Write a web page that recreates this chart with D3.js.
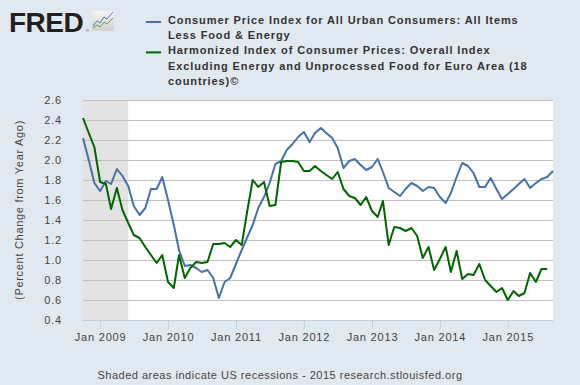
<!DOCTYPE html>
<html>
<head>
<meta charset="utf-8">
<script src="https://cdn.jsdelivr.net/npm/d3@7"></script>
<style>
  body { margin: 0; background: #e1e9f0; }
  svg { display: block; font-family: "Liberation Sans", Arial, sans-serif; }
</style>
</head>
<body>
<svg id="chart" width="580" height="385"></svg>
<script>
// monthly, Oct 2008 .. Sep 2015 (percent change from year ago)
const startMonth = "2008-10";
const usCore = [
  2.22, 2.00, 1.77,
  1.69, 1.79, 1.76, 1.91, 1.84, 1.74, 1.54, 1.45, 1.52, 1.71, 1.71, 1.83,
  1.60, 1.35, 1.10, 0.94, 0.95, 0.92, 0.88, 0.90, 0.82, 0.62, 0.78, 0.82,
  0.96, 1.10, 1.22, 1.35, 1.52, 1.63, 1.77, 1.96, 1.99, 2.10, 2.16, 2.23,
  2.28, 2.18, 2.27, 2.32, 2.27, 2.22, 2.12, 1.92, 1.99, 2.01, 1.95, 1.90,
  1.93, 2.01, 1.88, 1.72, 1.68, 1.64, 1.71, 1.77, 1.74, 1.69, 1.73, 1.72,
  1.63, 1.57, 1.67, 1.83, 1.97, 1.94, 1.87, 1.73, 1.73, 1.82, 1.71, 1.61,
  1.66, 1.71, 1.76, 1.81, 1.72, 1.77, 1.81, 1.83, 1.89
];
const euroCore = [
  2.42, 2.27, 2.13,
  1.78, 1.76, 1.51, 1.72, 1.50, 1.37, 1.25, 1.22, 1.13, 1.05, 0.97, 1.05,
  0.78, 0.72, 1.05, 0.82, 0.92, 0.98, 0.97, 0.98, 1.16, 1.16, 1.17, 1.13,
  1.20, 1.15, 1.47, 1.80, 1.73, 1.78, 1.54, 1.55, 1.98, 1.99, 1.99, 1.98,
  1.89, 1.89, 1.94, 1.89, 1.85, 1.81, 1.88, 1.71, 1.64, 1.62, 1.55, 1.63,
  1.49, 1.43, 1.59, 1.15, 1.33, 1.32, 1.29, 1.32, 1.24, 1.02, 1.13, 0.90,
  1.01, 1.13, 0.88, 1.09, 0.81, 0.86, 0.85, 0.96, 0.80, 0.74, 0.68, 0.72,
  0.60, 0.69, 0.64, 0.67, 0.87, 0.78, 0.91, 0.91
];
const legendLines = [
  ["Consumer Price Index for All Urban Consumers: All Items", "Less Food & Energy"],
  ["Harmonized Index of Consumer Prices: Overall Index",
   "Excluding Energy and Unprocessed Food for Euro Area (18", "countries)©"]
];
const recession = ["2008-10", "2009-06"];
const yTicks = [0.4, 0.6, 0.8, 1.0, 1.2, 1.4, 1.6, 1.8, 2.0, 2.2, 2.4, 2.6];
const xTickYears = [2009, 2010, 2011, 2012, 2013, 2014, 2015];

const colors = ["#4572a7", "#006600"];
const parseMonth = d3.timeParse("%Y-%m");
const t0 = parseMonth(startMonth);
const toSeries = vals => vals.map((v, i) => ({ date: d3.timeMonth.offset(t0, i), value: v }));
const series = [toSeries(usCore), toSeries(euroCore)];

const svg = d3.select("#chart");
const margin = { top: 100, right: 27, bottom: 65, left: 83 };
const W = 580, H = 385;

const x = d3.scaleTime()
  .domain([t0, parseMonth("2015-09")])
  .range([margin.left, W - margin.right]);
const y = d3.scaleLinear()
  .domain([0.4, 2.6])
  .range([H - margin.bottom, margin.top]);

// plot background
svg.append("rect")
  .attr("x", margin.left).attr("y", margin.top)
  .attr("width", W - margin.left - margin.right)
  .attr("height", H - margin.top - margin.bottom)
  .attr("fill", "#fff");

// recession shading
svg.append("rect")
  .attr("x", x(parseMonth(recession[0])))
  .attr("y", margin.top)
  .attr("width", x(parseMonth(recession[1])) - x(parseMonth(recession[0])))
  .attr("height", H - margin.top - margin.bottom)
  .attr("fill", "#e3e3e3");

// grid + y labels
const yAxis = svg.append("g")
  .attr("transform", `translate(${margin.left},0)`)
  .call(d3.axisLeft(y).tickValues(yTicks).tickFormat(d3.format(".1f"))
    .tickSize(-(W - margin.left - margin.right)).tickPadding(21));
yAxis.select(".domain").remove();
yAxis.selectAll(".tick line").attr("stroke", "#c0c0c0");
yAxis.selectAll(".tick text")
  .attr("fill", "#444").style("font-size", "11px").style("letter-spacing", "0.8px");

// x axis
const xAxis = svg.append("g")
  .attr("transform", `translate(0,${H - margin.bottom})`)
  .call(d3.axisBottom(x)
    .tickValues(xTickYears.map(yr => new Date(yr, 0, 1)))
    .tickFormat(d3.timeFormat("Jan %Y"))
    .tickSize(9).tickPadding(4).tickSizeOuter(0));
xAxis.select(".domain").attr("stroke", "#c0d0e0");
xAxis.selectAll(".tick line").attr("stroke", "#c0d0e0");
xAxis.selectAll(".tick text")
  .attr("fill", "#444").style("font-size", "11px").style("letter-spacing", "0.8px");

// lines
const line = d3.line().x(d => x(d.date)).y(d => y(d.value));
series.forEach((s, i) => {
  svg.append("path")
    .datum(s)
    .attr("fill", "none")
    .attr("stroke", colors[i])
    .attr("stroke-width", 2)
    .attr("stroke-linejoin", "round")
    .attr("d", line);
});

// y title
svg.append("text")
  .attr("transform", `translate(23,${(margin.top + H - margin.bottom) / 2}) rotate(-90)`)
  .attr("text-anchor", "middle")
  .attr("fill", "#444")
  .style("font-size", "11px").style("letter-spacing", "0.7px")
  .text("(Percent Change from Year Ago)");

// legend
let ly = 24;
legendLines.forEach((lines, i) => {
  svg.append("line")
    .attr("x1", 146).attr("x2", 161)
    .attr("y1", ly - 2).attr("y2", ly - 2)
    .attr("stroke", colors[i]).attr("stroke-width", 2);
  lines.forEach(txt => {
    svg.append("text")
      .attr("x", 168).attr("y", ly)
      .attr("fill", "#333")
      .style("font-size", "11px").style("font-weight", "bold")
      .style("letter-spacing", "0.9px")
      .text(txt);
    ly += 15.2;
  });
});

// logo
svg.append("text")
  .attr("x", 9).attr("y", 32)
  .attr("fill", "#231f20")
  .style("font-size", "28px").style("font-weight", "bold")
  .style("letter-spacing", "-0.5px")
  .text("FRED");
svg.append("text")
  .attr("x", 86).attr("y", 32)
  .attr("fill", "#231f20").style("font-size", "4px")
  .text("®");
const grad = svg.append("defs").append("linearGradient")
  .attr("id", "logoGrad").attr("x1", 0).attr("y1", 0).attr("x2", 0).attr("y2", 1);
grad.append("stop").attr("offset", 0).attr("stop-color", "#f4f4f4");
grad.append("stop").attr("offset", 1).attr("stop-color", "#cfcfcf");
svg.append("rect")
  .attr("x", 92).attr("y", 11).attr("width", 22).attr("height", 20)
  .attr("rx", 2).attr("fill", "url(#logoGrad)");
svg.append("polyline")
  .attr("points", "93,26 97,21 100,23 104,17 107,19 113,12")
  .attr("fill", "none").attr("stroke", "#4f7fc0").attr("stroke-width", 1);
svg.append("polyline")
  .attr("points", "93,28 97,25 100,27 104,22 107,24 113,18")
  .attr("fill", "none").attr("stroke", "#5aa040").attr("stroke-width", 1);

// footer
svg.append("text")
  .attr("x", 280).attr("y", 379)
  .attr("text-anchor", "middle")
  .attr("fill", "#444")
  .style("font-size", "11px").style("letter-spacing", "0.5px")
  .text("Shaded areas indicate US recessions - 2015 research.stlouisfed.org");
</script>
</body>
</html>
